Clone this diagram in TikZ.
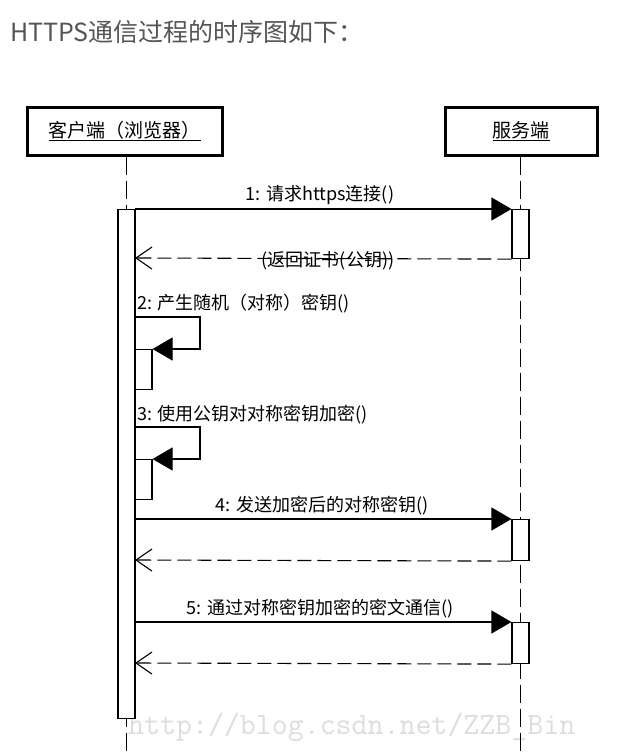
\documentclass[tikz,border=0pt]{standalone}
\usepackage{fontspec}
\newfontfamily\cjk{Noto Sans CJK SC}
\usetikzlibrary{arrows.meta}
\definecolor{titlegray}{HTML}{555555}
\definecolor{wmgray}{HTML}{DDDDDD}
\tikzset{
  objbox/.style={draw, line width=3pt, fill=white, minimum width=#1, minimum height=48pt, inner sep=0pt,
    font=\cjk\fontsize{19}{21}\selectfont},
  lifeline/.style={line width=1.1pt, dash pattern=on 18pt off 6pt},
  actbar/.style={draw, line width=1.1pt, fill=white, minimum width=17pt, inner sep=0pt, anchor=north},
  msg/.style={line width=1.1pt, -{Triangle[length=20pt,width=23pt]}},
  ret/.style={line width=1.1pt, dash pattern=on 14pt off 6pt, -{Straight Barb[length=16pt,width=22pt,line width=1.1pt]}},
  lbl/.style={inner sep=0pt, font=\cjk\fontsize{18}{20}\selectfont},
}
\begin{document}
\begin{tikzpicture}[x=1pt,y=-1pt]
\useasboundingbox (0,0) rectangle (637,752);
\fill[white] (0,0) rectangle (637,752);

% title
\node[anchor=west, inner sep=0pt, text=titlegray, font=\cjk\fontsize{25}{28}\selectfont] (title) at (10,32) {HTTPS通信过程的时序图如下：};

% watermark
\node[anchor=west, inner sep=0pt, text=wmgray, font=\ttfamily\fontsize{31}{32}\selectfont] (wm) at (128,727) {http://blog.csdn.net/ZZB\_Bin};

% objects
\node[objbox=195pt] (client) at (124.5,131) {\underline{客户端（浏览器）}};
\node[objbox=152pt] (server) at (521,131) {\underline{服务端}};

% lifelines
\coordinate (cend) at (126.5,752);
\coordinate (send) at (520.5,752);
\draw[lifeline] (client.south -| cend) -- (cend);
\draw[lifeline] (server.south -| send) -- (send);

% activation bars
\node[actbar, minimum height=509pt] (cbar) at (126.5,209) {};
\node[actbar, minimum height=49pt] (sbar1) at (520.5,209) {};
\node[actbar, minimum height=41pt] (sbar4) at (520.5,519) {};
\node[actbar, minimum height=41pt] (sbar5) at (520.5,622) {};
\node[actbar, minimum height=40pt] (nbar2) at (143.5,349) {};
\node[actbar, minimum height=40pt] (nbar3) at (143.5,459) {};

% message 1
\coordinate (m1a) at (135,209);
\draw[msg] (m1a) -- (sbar1.north west);
\node[lbl] (l1) at (320,195) {1: 请求https连接()};
% return 1
\coordinate (r1b) at (135,258);
\draw[ret] (sbar1.south west) -- (r1b);
\node[lbl] (l1r) at (328,261) {(返回证书(公钥))};

% self message 2
\node[lbl, anchor=west] (l2) at (137,304) {2: 产生随机（对称）密钥()};
\coordinate (s2a) at (134,317);
\coordinate (s2b) at (200,317);
\coordinate (s2c) at (200,349);
\draw[msg] (s2a) -- (s2b) -- (s2c) -- (nbar2.north east);

% self message 3
\node[lbl, anchor=west] (l3) at (137,415) {3: 使用公钥对对称密钥加密()};
\coordinate (s3a) at (134,427);
\coordinate (s3b) at (200,427);
\coordinate (s3c) at (200,459);
\draw[msg] (s3a) -- (s3b) -- (s3c) -- (nbar3.north east);

% message 4
\coordinate (m4a) at (135,519);
\draw[msg] (m4a) -- (sbar4.north west);
\node[lbl] (l4) at (322,506) {4: 发送加密后的对称密钥()};
\coordinate (r4b) at (135,560);
\draw[ret] (sbar4.south west) -- (r4b);

% message 5
\coordinate (m5a) at (135,622);
\draw[msg] (m5a) -- (sbar5.north west);
\node[lbl] (l5) at (320,609) {5: 通过对称密钥加密的密文通信()};
\coordinate (r5b) at (135,663);
\draw[ret] (sbar5.south west) -- (r5b);
\end{tikzpicture}
\end{document}
